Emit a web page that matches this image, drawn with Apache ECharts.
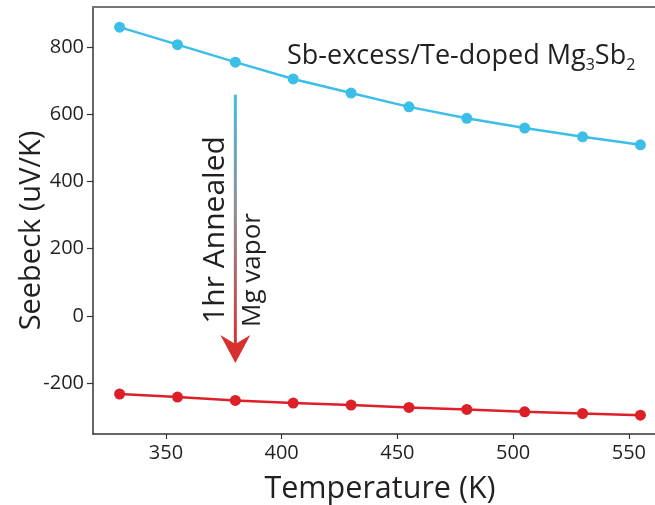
<!DOCTYPE html>
<html><head><meta charset="utf-8">
<script src="https://cdn.jsdelivr.net/npm/echarts@6/dist/echarts.min.js"></script>
<style>html,body{margin:0;padding:0;background:#fff}#c{width:655px;height:505px}</style>
</head><body><div id="c"></div>
<script>
const temperatures = [330, 355, 380, 405, 430, 455, 480, 505, 530, 555];
const seebeckPristine = [859, 807, 755, 705, 663, 622, 588, 559, 533, 509];
const seebeckAnnealed = [-232, -241, -251, -259, -265, -272, -278, -285, -290, -295];
const xTicks = [350, 400, 450, 500, 550];
const yTicks = [-200, 0, 200, 400, 600, 800];
const arrowFromTo = [[380, 658], [380, -140]];

const FONT = 'Open Sans';
const TXT = '#231f20';
const BLUE = '#3bbfe8';
const RED = '#dd1f27';

const chart = echarts.init(document.getElementById('c'), null, {renderer: 'canvas'});
const pairs = (xs, ys) => xs.map((x, i) => [x, ys[i]]);

chart.setOption({
  animation: false,
  backgroundColor: '#fff',
  grid: {left: 93, top: 7, right: 0, bottom: 71, containLabel: false, outerBoundsMode: 'none'},
  xAxis: [{
    type: 'value', min: 318.5, max: 561.3,
    name: 'Temperature (K)', nameLocation: 'middle', nameGap: 40, nameMoveOverlap: false,
    nameTextStyle: {fontFamily: FONT, fontSize: 30.5, color: TXT, padding: [0, 0, 0, 12]},
    axisLine: {show: true, onZero: false, lineStyle: {color: '#333', width: 1.5}},
    axisTick: {show: true, length: 5, lineStyle: {color: '#333', width: 1.2}, customValues: xTicks},
    axisLabel: {fontFamily: FONT, fontSize: 20, color: TXT, margin: 9, customValues: xTicks},
    splitLine: {show: false}
  }, {
    type: 'value', min: 318.5, max: 561.3, position: 'top',
    axisLine: {show: true, onZero: false, lineStyle: {color: '#777', width: 2}},
    axisTick: {show: false}, axisLabel: {show: false}, splitLine: {show: false}
  }],
  yAxis: {
    type: 'value', min: -351, max: 919,
    name: 'Seebeck (uV/K)', nameLocation: 'middle', nameGap: 47, nameMoveOverlap: false,
    nameTextStyle: {fontFamily: FONT, fontSize: 29, color: TXT, padding: [0, 20, 0, 0]},
    axisLine: {show: true, onZero: false, lineStyle: {color: '#333', width: 1.5}},
    axisTick: {show: true, length: 6, lineStyle: {color: '#333', width: 1.2}, customValues: yTicks},
    axisLabel: {fontFamily: FONT, fontSize: 20, color: TXT, margin: 9, customValues: yTicks},
    splitLine: {show: false}
  },
  series: [{
    type: 'line', name: 'Sb-excess/Te-doped', data: pairs(temperatures, seebeckPristine),
    symbol: 'circle', symbolSize: 11, color: BLUE, lineStyle: {width: 2.5, color: BLUE}, z: 3
  }, {
    type: 'line', name: 'Annealed', data: pairs(temperatures, seebeckAnnealed),
    symbol: 'circle', symbolSize: 11, color: RED, lineStyle: {width: 2.5, color: RED}, z: 3
  }]
});

const pTop = chart.convertToPixel({gridIndex: 0}, arrowFromTo[0]);
const pTip = chart.convertToPixel({gridIndex: 0}, arrowFromTo[1]);
const ax = pTop[0];
const headH = 28, headW = 15, notch = 9;
chart.setOption({
  graphic: [
    {type: 'line', shape: {x1: ax, y1: pTop[1], x2: ax, y2: pTip[1] - headH + notch + 2},
     style: {stroke: new echarts.graphic.LinearGradient(0, 0, 0, 1, [
       {offset: 0, color: BLUE}, {offset: 0.45, color: '#8d8f96'}, {offset: 1, color: '#d8302f'}]), lineWidth: 3}},
    {type: 'polygon', shape: {points: [[ax, pTip[1]], [ax - headW, pTip[1] - headH], [ax, pTip[1] - headH + notch], [ax + headW, pTip[1] - headH]]},
     style: {fill: '#d6312e'}},
    {type: 'text', x: ax - 20, y: 230, rotation: Math.PI / 2,
     style: {text: '1hr Annealed', fontFamily: FONT, fontSize: 30, fill: TXT, align: 'center', verticalAlign: 'middle'}},
    {type: 'text', x: ax + 17, y: 270, rotation: Math.PI / 2,
     style: {text: 'Mg vapor', fontFamily: FONT, fontSize: 26, fill: TXT, align: 'center', verticalAlign: 'middle'}},
    {type: 'text', x: 287, y: 56,
     style: {text: '{a|Sb-excess/Te-doped Mg}{s|3}{a|Sb}{s|2}', fontFamily: FONT, fill: TXT, align: 'left', verticalAlign: 'middle',
       rich: {a: {fontFamily: FONT, fontSize: 27, color: TXT, lineHeight: 34, verticalAlign: 'middle'},
              s: {fontFamily: FONT, fontSize: 16, color: TXT, lineHeight: 34, verticalAlign: 'middle', padding: [18, 0, 0, 0]}}}}
  ]
});
</script></body></html>
